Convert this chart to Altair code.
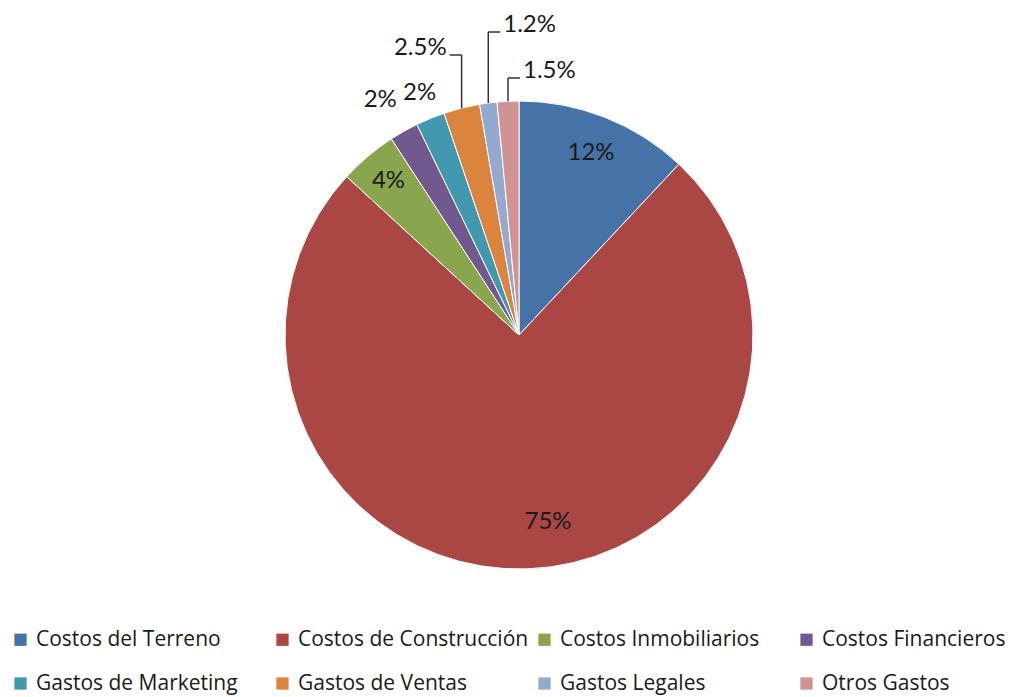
import altair as alt
import pandas as pd

# ---- data ----
categories = ["Costos del Terreno", "Costos de Construcción", "Costos Inmobiliarios",
              "Costos Financieros", "Gastos de Marketing", "Gastos de Ventas",
              "Gastos Legales", "Otros Gastos"]
values = [12, 75, 4, 2, 2, 2.5, 1.2, 1.5]
labels = ["12%", "75%", "4%", "2%", "2%", "2.5%", "1.2%", "1.5%"]
colors = ["#4572A7", "#AA4643", "#89A54E", "#71588F",
          "#4198AF", "#DB843D", "#93A9CF", "#D19392"]

# ---- style / layout ----
CX, CY, R = 519, 335, 234
FONT = "Lato"
LEGEND_FONT = "Open Sans"
# label placement: (radius, dx) for labels placed around mid-angle
polar_label = {"Costos del Terreno": (196, 0), "Costos de Construcción": (187, 22),
               "Costos Inmobiliarios": (202, 0), "Costos Financieros": (270, -6),
               "Gastos de Marketing": (262, 0)}
# leader-line labels: (elbow y, side)
leader = {"Gastos de Ventas": (55, -1), "Gastos Legales": (32, 1), "Otros Gastos": (78, 1)}

df = pd.DataFrame({"cat": categories, "value": values, "label": labels,
                   "idx": list(range(len(categories)))})
df["lr"] = [polar_label.get(c, (0, 0))[0] for c in categories]
df["ldx"] = [polar_label.get(c, (0, 0))[1] for c in categories]
df["ly"] = [leader.get(c, (0, 0))[0] for c in categories]
df["side"] = [leader.get(c, (0, 0))[1] for c in categories]

base = alt.Chart(df)

pie = base.mark_arc(outerRadius=R, stroke="white", strokeWidth=1).encode(
    x=alt.value(CX), y=alt.value(CY),
    theta=alt.Theta("value:Q", stack=True),
    order=alt.Order("idx:O"),
    color=alt.Color("cat:N", sort=categories,
                    scale=alt.Scale(domain=categories, range=colors),
                    legend=alt.Legend(orient="none", legendX=10, legendY=629,
                                      direction="horizontal", columns=4, title=None,
                                      symbolType="square", symbolSize=150,
                                      symbolStrokeWidth=0, labelFont=LEGEND_FONT,
                                      labelFontSize=21, labelLimit=400,
                                      labelColor="#1a1a1a", gridAlign="all",
                                      columnPadding=5, rowPadding=22,
                                      labelOffset=5)),
)

geo = base.transform_joinaggregate(total="sum(value)").transform_window(
    cum="sum(value)", sort=[alt.SortField("idx")], frame=[None, 0]
).transform_calculate(
    mid="(datum.cum - datum.value/2) / datum.total * 2 * PI",
).transform_calculate(
    ex=f"{CX} + {R} * sin(datum.mid)",
    ey=f"{CY} - {R} * cos(datum.mid)",
    px=f"{CX} + datum.lr * sin(datum.mid) + datum.ldx",
    py=f"{CY} - datum.lr * cos(datum.mid)",
    hx="datum.ex + datum.side * 12",
    tx="datum.ex + datum.side * 15",
    ty="datum.ly - 7",
)

polar_text = geo.transform_filter("datum.lr > 0").mark_text(
    font=FONT, fontSize=24, color="#1a1a1a", baseline="middle", align="center"
).encode(
    x=alt.X("px:Q", scale=None), y=alt.Y("py:Q", scale=None), text="label:N"
)

lead = geo.transform_filter("datum.side != 0")
vrule = lead.mark_rule(color="#333333", strokeWidth=1.5).encode(
    x=alt.X("ex:Q", scale=None), y=alt.Y("ey:Q", scale=None), y2="ly:Q"
)
hrule = lead.mark_rule(color="#333333", strokeWidth=1.5).encode(
    x=alt.X("ex:Q", scale=None), x2="hx:Q", y=alt.Y("ly:Q", scale=None)
)
text_left = lead.transform_filter("datum.side < 0").mark_text(
    font=FONT, fontSize=24, color="#1a1a1a", baseline="middle", align="right"
).encode(x=alt.X("tx:Q", scale=None), y=alt.Y("ty:Q", scale=None), text="label:N")
text_right = lead.transform_filter("datum.side > 0").mark_text(
    font=FONT, fontSize=24, color="#1a1a1a", baseline="middle", align="left"
).encode(x=alt.X("tx:Q", scale=None), y=alt.Y("ty:Q", scale=None), text="label:N")

chart = alt.layer(pie, polar_text, vrule, hrule, text_left, text_right).properties(
    width=1021, height=697, autosize="none", padding=0, background="white"
).configure_view(stroke=None)

chart.save("out.html", embed_options={"renderer": "svg", "actions": False})
